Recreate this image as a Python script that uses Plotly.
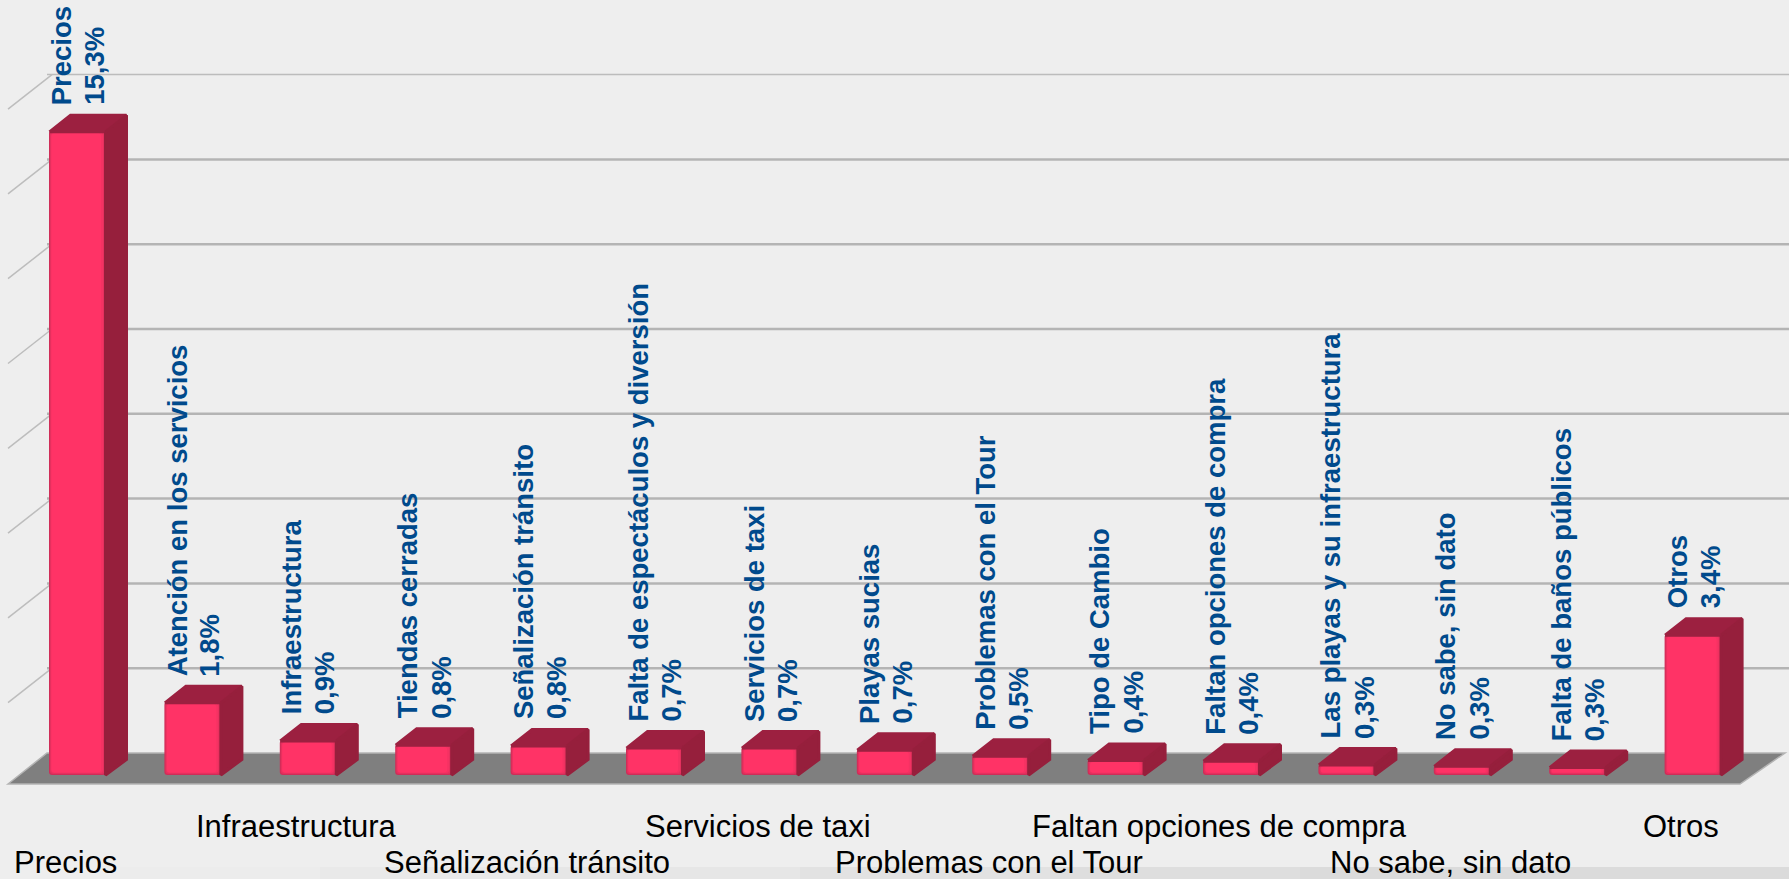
import plotly.graph_objects as go

categories = ["Precios", "Atención en los servicios", "Infraestructura", "Tiendas cerradas",
              "Señalización tránsito", "Falta de espectáculos y diversión", "Servicios de taxi",
              "Playas sucias", "Problemas con el Tour", "Tipo de Cambio", "Faltan opciones de compra",
              "Las playas y su infraestructura", "No sabe, sin dato", "Falta de baños públicos", "Otros"]
values = [15.3, 1.8, 0.9, 0.8, 0.78, 0.73, 0.73, 0.68, 0.54, 0.44, 0.42, 0.33, 0.30, 0.27, 3.4]
value_labels = ["15,3%", "1,8%", "0,9%", "0,8%", "0,8%", "0,7%", "0,7%", "0,7%", "0,5%", "0,4%",
                "0,4%", "0,3%", "0,3%", "0,3%", "3,4%"]
axis_row_1 = [2, 6, 10, 14]
axis_row_2 = [0, 4, 8, 12]
grid_values = [0, 2, 4, 6, 8, 10, 12, 14, 16]

W, H = 1789, 879
PITCH = 115.4
UNIT = 42.3
X0 = 77.5
Y0 = 778


def dx(px):
    return px / PITCH


def dy(px):
    return px / UNIT


def X(px):
    return (px - X0) / PITCH


def Y(px):
    return (Y0 - px) / UNIT


BAR_W = 57
BASE = dy(3)
FRONT = "#ff3366"
TOP = "#9c2040"
SIDE = "#961f3c"
FONT = "Liberation Sans"

fig = go.Figure()

# depth faces of each bar
for i, v in enumerate(values):
    xl = i - dx(BAR_W / 2) + dx(0.5)
    xr = i + dx(BAR_W / 2) - dx(0.5)
    ddx, ddy = dx(21), dy(15.5)
    fig.add_trace(go.Scatter(
        x=[xl, xl + ddx, xr + ddx, xr, xl], y=[v - dy(1), v + ddy, v + ddy, v - dy(1), v - dy(1)],
        mode="lines", fill="toself", fillcolor=TOP, line=dict(color=TOP, width=3),
        hoverinfo="skip", showlegend=False))
    fig.add_trace(go.Scatter(
        x=[xr, xr + ddx, xr + ddx, xr, xr], y=[v - dy(1), v + ddy, BASE + ddy, BASE, v - dy(1)],
        mode="lines", fill="toself", fillcolor=SIDE, line=dict(color=SIDE, width=3),
        hoverinfo="skip", showlegend=False))

# front faces: nested bars give the soft bevelled edge
for inset_l, inset_r, inset_v, colour in [(0, 0, 0, "#cf2d58"), (1, 1.5, 1, "#e5305e"),
                                          (2, 3, 2, "#f53263"), (2.5, 5, 2.5, FRONT)]:
    fig.add_trace(go.Bar(
        x=list(range(len(values))),
        y=[max(v - BASE - 2 * dy(inset_v), dy(0.5)) for v in values],
        base=[BASE + dy(inset_v)] * len(values),
        width=dx(BAR_W - inset_l - inset_r),
        offset=dx(-BAR_W / 2 + inset_l),
        marker=dict(color=colour, line=dict(width=0), cornerradius=3),
        hoverinfo="skip", showlegend=False))

shapes = []
# bottom band, darkening to the right
for x_from, colour in [(120, "#ececec"), (320, "#e9e9e9"), (520, "#e6e6e6"), (800, "#e2e2e2"),
                       (1050, "#dedede"), (1300, "#dbdbdb")]:
    shapes.append(dict(type="rect", xref="paper", yref="paper", x0=x_from / W, x1=1, y0=0, y1=12 / H,
                       fillcolor=colour, line_width=0, layer="below"))
# walls and gridlines
for g in grid_values[1:]:
    py = 753 - 42.4 * g
    shapes.append(dict(type="line", x0=X(47), x1=X(1789), y0=Y(py), y1=Y(py),
                       line=dict(color="#b4b4b4" if g < 16 else "#bcbcbc", width=2.5 if g < 16 else 1.5),
                       layer="below"))
    shapes.append(dict(type="line", x0=X(8), x1=X(52), y0=Y(py + 31 + 3.5), y1=Y(py),
                       line=dict(color="#bdbdbd", width=1.5), layer="below"))
# floor
shapes.append(dict(type="path",
                   path=f"M {X(8)} {Y(784)} L {X(47)} {Y(753)} L {X(1785)} {Y(753)} L {X(1740)} {Y(784)} Z",
                   fillcolor="#7f7f7f", line=dict(color="#b4b4b4", width=1.5), layer="below"))

annotations = []
for i, v in enumerate(values):
    for text, shift in ((categories[i], -16), (value_labels[i], 17)):
        annotations.append(dict(
            x=i, y=v + dy(15.5 + 9), xref="x", yref="y", text=f"<b>{text}</b>",
            textangle=-90, showarrow=False, xanchor="center", yanchor="bottom",
            font=dict(family=FONT, size=27.5, color="#004a8c"), xshift=shift, borderpad=0))
for row, rows_y in ((axis_row_1, 826), (axis_row_2, 862)):
    for i in row:
        annotations.append(dict(
            x=i + dx(-12), y=Y(rows_y), xref="x", yref="y", text=categories[i], showarrow=False,
            xanchor="center", yanchor="middle", font=dict(family=FONT, size=31, color="#000000")))

fig.update_layout(
    width=W, height=H, margin=dict(l=0, r=0, t=0, b=0), autosize=False,
    paper_bgcolor="#eeeeee", plot_bgcolor="#eeeeee", barmode="overlay", showlegend=False,
    xaxis=dict(range=[X(0), X(W)], visible=False, fixedrange=True),
    yaxis=dict(range=[Y(H), Y(0)], visible=False, fixedrange=True),
    shapes=shapes, annotations=annotations)

fig.write_html("out.html", config={"displayModeBar": False},
               post_script="document.body.style.margin='0';document.body.style.background='#eeeeee';document.body.style.overflow='hidden';")
